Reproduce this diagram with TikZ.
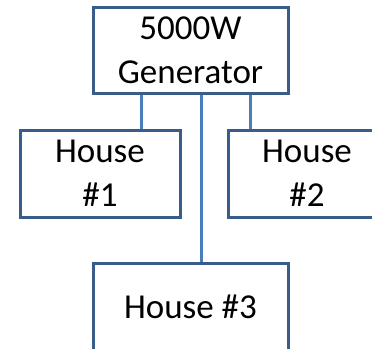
\documentclass[tikz,border=0pt]{standalone}
\usepackage{fontspec}
\setmainfont{Carlito}
\definecolor{boxline}{HTML}{385D8A}
\definecolor{wire}{HTML}{4A7EBB}
\begin{document}
\begin{tikzpicture}[x=1pt,y=-1pt,
  unit/.style={draw=boxline, line width=3pt, fill=white, inner sep=0pt,
    align=center, font=\fontsize{35}{44}\selectfont},
  wireline/.style={draw=wire, line width=2.6pt}]
\useasboundingbox (0,0) rectangle (372,348);
\clip (0,0) rectangle (372,348);
\node[unit, minimum width=195pt, minimum height=86pt] (gen) at (190.5,50) {5000W\\Generator};
\node[unit, minimum width=160pt, minimum height=87pt] (h1) at (100,173.5) {House\\\#1};
\node[unit, minimum width=158pt, minimum height=87pt] (h2) at (307,173.5) {House\\\#2};
\node[unit, minimum width=195pt, minimum height=87pt] (h3) at (190.5,306.5) {House \#3};
\draw[wireline] (gen.south west) ++(50,0) coordinate (w1) -- (w1 |- h1.north);
\draw[wireline] (gen.south west) ++(159,0) coordinate (w2) -- (w2 |- h2.north);
\draw[wireline] (gen.south west) ++(110,0) coordinate (w3) -- (w3 |- h3.north);
\end{tikzpicture}
\end{document}
